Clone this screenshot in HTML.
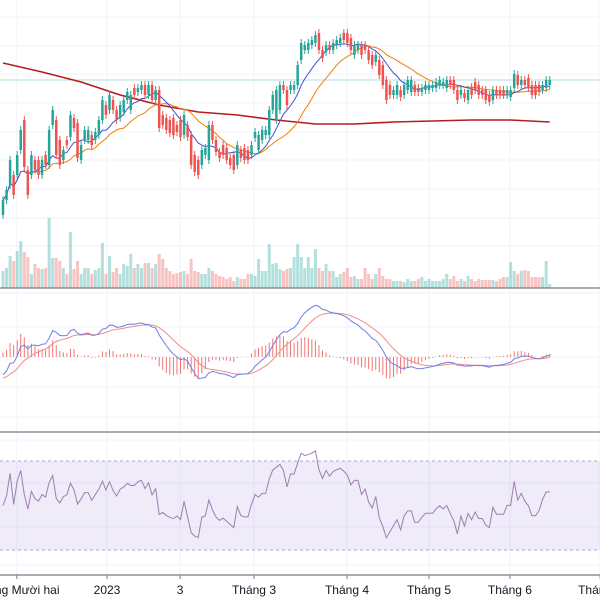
<!DOCTYPE html>
<html><head><meta charset="utf-8"><style>
html,body{margin:0;padding:0;background:#fff;width:600px;height:600px;overflow:hidden}
svg{display:block;font-family:"Liberation Sans",sans-serif}
</style></head><body>
<svg id="c" width="600" height="600"></svg>
<script>
const opens=[8.5,10.0,11.5,12.5,12.5,15.0,18.0,13.0,12.5,14.0,14.0,12.5,14.5,13.5,17.5,18.0,16.0,14.0,16.0,16.3,18.2,17.7,14.0,16.0,16.0,16.5,16.0,16.5,18.0,19.5,19.0,20.0,19.0,18.2,18.8,20.0,19.0,21.2,20.8,21.0,21.5,20.5,21.5,20.0,21.0,18.5,18.2,18.0,18.2,17.5,18.0,16.5,17.5,16.5,14.5,14.0,13.5,14.5,14.0,17.5,16.0,14.8,15.5,15.2,14.2,14.5,13.5,15.0,15.2,15.0,14.5,16.2,15.0,16.0,16.5,16.5,19.0,18.0,19.0,21.5,21.0,21.0,21.0,21.5,24.0,25.0,25.0,25.5,25.7,26.7,25.0,24.8,25.5,25.0,25.5,25.7,26.7,26.7,26.2,24.5,25.0,25.5,25.5,25.0,24.5,23.8,24.0,23.5,22.0,21.5,20.5,20.5,21.0,20.5,21.0,20.8,21.5,21.2,20.8,21.0,21.0,21.2,21.2,21.5,21.5,21.2,22.0,22.0,21.0,20.5,20.7,20.0,21.3,21.8,21.5,21.0,21.0,20.5,20.0,21.0,21.0,21.0,20.5,20.3,21.2,22.5,21.5,22.0,22.2,21.5,21.5,21.5,21.0,21.2,21.5];
const closes=[10.0,11.0,14.0,10.5,14.5,17.0,13.3,10.5,14.5,13.0,12.5,14.0,13.5,17.0,19.0,14.5,13.5,15.0,15.5,18.5,17.2,14.2,15.5,17.0,17.0,15.5,16.8,18.0,20.0,18.5,20.5,19.0,18.0,19.5,20.0,20.8,20.5,20.5,21.2,21.5,20.5,21.5,20.0,21.0,17.2,17.5,17.0,16.7,16.5,16.8,16.3,18.5,16.3,13.5,12.8,12.5,15.0,15.2,17.5,16.0,14.8,14.2,14.5,14.0,13.5,13.0,15.5,14.2,14.0,14.0,15.5,16.8,16.5,17.0,17.0,19.0,20.5,21.0,21.5,21.0,19.5,21.5,21.5,23.5,25.7,25.5,25.7,26.0,26.5,25.0,24.2,25.5,25.0,25.7,26.0,26.2,26.0,25.7,25.0,25.5,25.5,24.5,25.0,24.0,23.5,24.5,22.5,21.5,20.0,20.5,21.0,21.5,20.3,21.5,22.0,22.0,20.8,20.8,21.2,21.5,21.5,21.5,21.8,22.0,21.8,22.0,21.5,21.0,20.0,21.0,20.2,21.0,20.5,21.0,20.5,20.5,20.0,19.8,21.0,20.5,20.5,20.5,21.0,21.0,22.6,21.5,22.0,21.5,21.2,20.5,20.5,20.8,21.5,22.0,22.0];
const volumes=[17,20,32,27,37,47,36,31,14,24,20,19,20,70,30,30,27,20,14,56,19,27,14,20,20,14,18,20,45,14,32,16,20,14,24,22,34,20,24,20,25,25,20,24,34,29,20,17,14,15,16,17,14,29,17,16,14,14,20,17,14,12,11,9,11,7,11,9,9,14,14,12,29,17,17,44,24,25,19,17,19,20,31,44,31,20,31,20,39,20,17,24,17,17,11,14,16,20,11,12,9,9,20,14,9,14,20,12,9,9,7,7,7,6,9,7,7,9,11,7,9,7,7,7,9,14,9,12,7,9,7,12,9,7,9,8,8,8,8,7,9,11,11,26,17,14,17,18,17,11,11,11,11,27,4];
const longMA=[23.7,22.8,21.8,20.5,19.5,18.8,18.5,18.0,17.6,17.6,17.8,17.9,18.0,18.0,17.8];
const xTicks=["Tháng Mười hai","2023","3","Tháng 3","Tháng 4","Tháng 5","Tháng 6","Tháng 7"];
const xTickPos=[3.9,29.3,49.9,70.7,96.9,120,142.8,168.2]; // in candle index units

const svg=document.getElementById('c');
const NS='http://www.w3.org/2000/svg';
function mk(tag,attrs,parent){const e=document.createElementNS(NS,tag);for(const k in attrs)e.setAttribute(k,attrs[k]);(parent||svg).appendChild(e);return e;}
const X=i=>3+i*3.55;
const Y=p=>300-10*p;
const GREEN='#26a69a',RED='#ef5350';

const grid=mk('g',{});


xTickPos.forEach(t=>mk('line',{x1:X(t),x2:X(t),y1:0,y2:575,stroke:'#f0f3fa','stroke-width':1},grid));
[17,46,74,103,132,160,189,218,246].forEach(y=>mk('line',{x1:0,x2:600,y1:y,y2:y,stroke:'#f0f3fa'},grid));
[293,327,357,387,417].forEach(y=>mk('line',{x1:0,x2:600,y1:y,y2:y,stroke:'#f0f3fa'},grid));
[440,483,527,565].forEach(y=>mk('line',{x1:0,x2:600,y1:y,y2:y,stroke:'#f0f3fa'},grid));

const pl=mk('line',{x1:0,x2:600,y1:Y(closes[closes.length-1]),y2:Y(closes[closes.length-1]),stroke:'#b2dfdb','stroke-width':1});



const vg=mk('g',{});


volumes.forEach((v,i)=>{const up=closes[i]>=opens[i];
 const r=mk('rect',{x:X(i)-1.5,y:288-v,width:3,height:v,fill:up?'rgba(38,166,154,0.35)':'rgba(239,83,80,0.35)'},vg);
 
 });

const lmPts=longMA.map((v,k)=>[X(k*(closes.length-1)/(longMA.length-1)),Y(v)]);
const lm=mk('polyline',{points:lmPts.map(p=>p.join(',')).join(' '),fill:'none',stroke:'#b71c1c','stroke-width':1.6});



function sma(arr,n){return arr.map((_,i)=>{const s=arr.slice(Math.max(0,i-n+1),i+1);return s.reduce((a,b)=>a+b,0)/s.length;});}
const ma10=sma(closes,10),ma20=sma(closes,20);
const m20=mk('polyline',{points:ma20.map((v,i)=>X(i)+','+Y(v)).join(' '),fill:'none',stroke:'#f57c00','stroke-width':1});


const m10=mk('polyline',{points:ma10.map((v,i)=>X(i)+','+Y(v)).join(' '),fill:'none',stroke:'#3f51d0','stroke-width':1});



const cg=mk('g',{});


closes.forEach((c,i)=>{const o=opens[i],up=c>=o,col=up?GREEN:RED;
 const hi=Math.max(o,c)+0.4,lo=Math.min(o,c)-0.4;
 mk('line',{x1:X(i),x2:X(i),y1:Y(hi),y2:Y(lo),stroke:col,'stroke-width':1},cg);
 const b=mk('rect',{x:X(i)-1.25,y:Y(Math.max(o,c)),width:2.5,height:Math.max(1,Math.abs(o-c)*10),fill:col},cg);
 
 });

mk('line',{x1:0,x2:600,y1:288,y2:288,stroke:'#787b86','stroke-width':1.2});
mk('line',{x1:0,x2:600,y1:432,y2:432,stroke:'#787b86','stroke-width':1.2});

function ema(arr,n,seed){const k=2/(n+1);let e=seed;return arr.map(v=>e=v*k+e*(1-k));}
const e12=ema(closes,12,9.5),e26=ema(closes,26,10.5);
const macd=e12.map((v,i)=>v-e26[i]);
const sig=ema(macd,9,-1.1);
const MY=v=>357-v*20;
const hg=mk('g',{});


macd.forEach((m,i)=>{const h=m-sig[i];mk('line',{x1:X(i),x2:X(i),y1:357,y2:MY(h*1.3),stroke:'#ef5350','stroke-width':1,opacity:0.8},hg);});
const sl=mk('polyline',{points:sig.map((v,i)=>X(i)+','+MY(v)).join(' '),fill:'none',stroke:'#f28b82','stroke-width':1});


const ml=mk('polyline',{points:macd.map((v,i)=>X(i)+','+MY(v)).join(' '),fill:'none',stroke:'#6f7fe6','stroke-width':1});



const RY=v=>505.5-(v-50)*2.225;
const band=mk('rect',{x:0,y:RY(70),width:600,height:RY(30)-RY(70),fill:'rgba(126,87,194,0.12)'});


mk('line',{x1:0,x2:600,y1:RY(70),y2:RY(70),stroke:'#b39ddb','stroke-dasharray':'3,3'});
mk('line',{x1:0,x2:600,y1:RY(30),y2:RY(30),stroke:'#b39ddb','stroke-dasharray':'3,3'});
let ag=0.4,al=0.4;const rsi=closes.map((c,i)=>{if(i>0){const d=c-closes[i-1];ag=(ag*13+Math.max(d,0))/14;al=(al*13+Math.max(-d,0))/14;}return 100-100/(1+ag/al);});
const rl=mk('polyline',{points:rsi.map((v,i)=>X(i)+','+RY(v)).join(' '),fill:'none',stroke:'#9c7fb0','stroke-width':1});



mk('line',{x1:0,x2:600,y1:575,y2:575,stroke:'#787b86','stroke-width':1.2});
xTicks.forEach((t,k)=>{const x=X(xTickPos[k]);
 mk('line',{x1:x,x2:x,y1:575,y2:579,stroke:'#787b86'});
 const tx=mk('text',{x:x,y:594,'text-anchor':'middle','font-size':12,fill:'#131722'});
 tx.textContent=t;
 
 });
</script>
</body></html>
